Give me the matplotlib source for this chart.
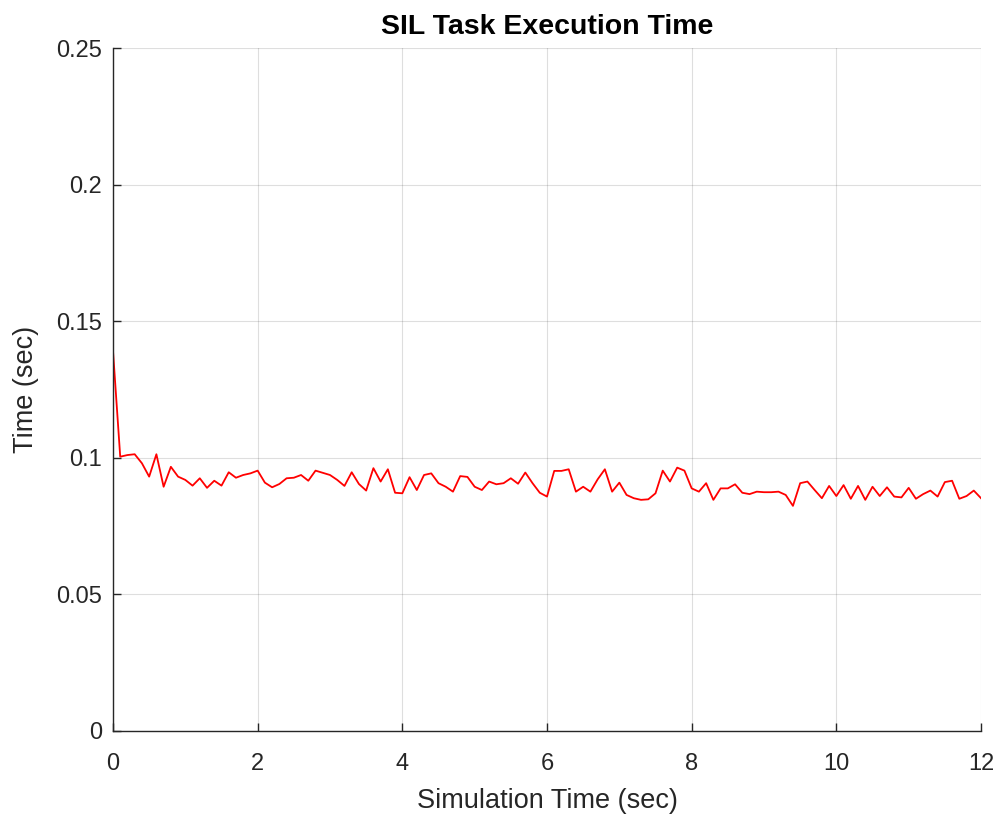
import numpy as np
import matplotlib
matplotlib.use("Agg")
import matplotlib.pyplot as plt

plt.rcParams['font.family'] = ['Liberation Sans', 'DejaVu Sans']

sample_period = 0.1
exec_time = [
    0.1392, 0.1004, 0.1010, 0.1013, 0.0980, 0.0931, 0.1013, 0.0894, 0.0967, 0.0931,
    0.0919, 0.0898, 0.0925, 0.0890, 0.0916, 0.0898, 0.0947, 0.0927, 0.0937, 0.0943,
    0.0953, 0.0909, 0.0892, 0.0904, 0.0925, 0.0927, 0.0937, 0.0916, 0.0953, 0.0945,
    0.0937, 0.0919, 0.0897, 0.0947, 0.0904, 0.0880, 0.0962, 0.0913, 0.0958, 0.0872,
    0.0870, 0.0929, 0.0882, 0.0937, 0.0943, 0.0907, 0.0894, 0.0876, 0.0933, 0.0930,
    0.0894, 0.0882, 0.0913, 0.0903, 0.0907, 0.0925, 0.0905, 0.0946, 0.0907, 0.0872,
    0.0858, 0.0952, 0.0952, 0.0958, 0.0876, 0.0894, 0.0876, 0.0921, 0.0958, 0.0876,
    0.0909, 0.0864, 0.0852, 0.0846, 0.0848, 0.0870, 0.0953, 0.0913, 0.0964, 0.0953,
    0.0888, 0.0876, 0.0907, 0.0846, 0.0888, 0.0888, 0.0903, 0.0872, 0.0867, 0.0876,
    0.0874, 0.0874, 0.0876, 0.0864, 0.0824, 0.0907, 0.0913, 0.0882, 0.0852, 0.0897,
    0.0860, 0.0900, 0.0850, 0.0897, 0.0846, 0.0894, 0.0860, 0.0892, 0.0858, 0.0855,
    0.0890, 0.0850, 0.0867, 0.0880, 0.0858, 0.0911, 0.0916, 0.0850, 0.0860, 0.0880,
    0.0852,
]
sim_time = np.arange(len(exec_time)) * sample_period

x_ticks = [0, 2, 4, 6, 8, 10, 12]
y_ticks = [0, 0.05, 0.1, 0.15, 0.2, 0.25]
y_tick_labels = ['0', '0.05', '0.1', '0.15', '0.2', '0.25']

fig = plt.figure(figsize=(9.99, 8.15), dpi=100)
ax = fig.add_axes([0.1131, 0.1031, 0.8689, 0.838])

ax.plot(sim_time, exec_time, color='#ff0000', linewidth=1.3)

ax.set_xlim(0, 12)
ax.set_ylim(0, 0.25)
ax.set_xticks(x_ticks)
ax.set_yticks(y_ticks)
ax.set_yticklabels(y_tick_labels)

ax.grid(True, color='#262626', alpha=0.15, linewidth=0.8)
ax.set_axisbelow(True)

for side in ['top', 'right']:
    ax.spines[side].set_visible(False)
for side in ['left', 'bottom']:
    ax.spines[side].set_color('#262626')
    ax.spines[side].set_linewidth(1.0)

ax.tick_params(direction='in', length=6, width=1.0, color='#262626',
               labelcolor='#262626', labelsize=17)
ax.tick_params(axis='x', pad=16)
ax.tick_params(axis='y', pad=8)

ax.set_title('SIL Task Execution Time', fontsize=20.5, fontweight='bold', color='black', pad=10)
ax.set_xlabel('Simulation Time (sec)', fontsize=19.5, color='#262626', labelpad=9)
ax.set_ylabel('Time (sec)', fontsize=19.5, color='#262626', labelpad=12)

fig.savefig('out.png', dpi=100)
